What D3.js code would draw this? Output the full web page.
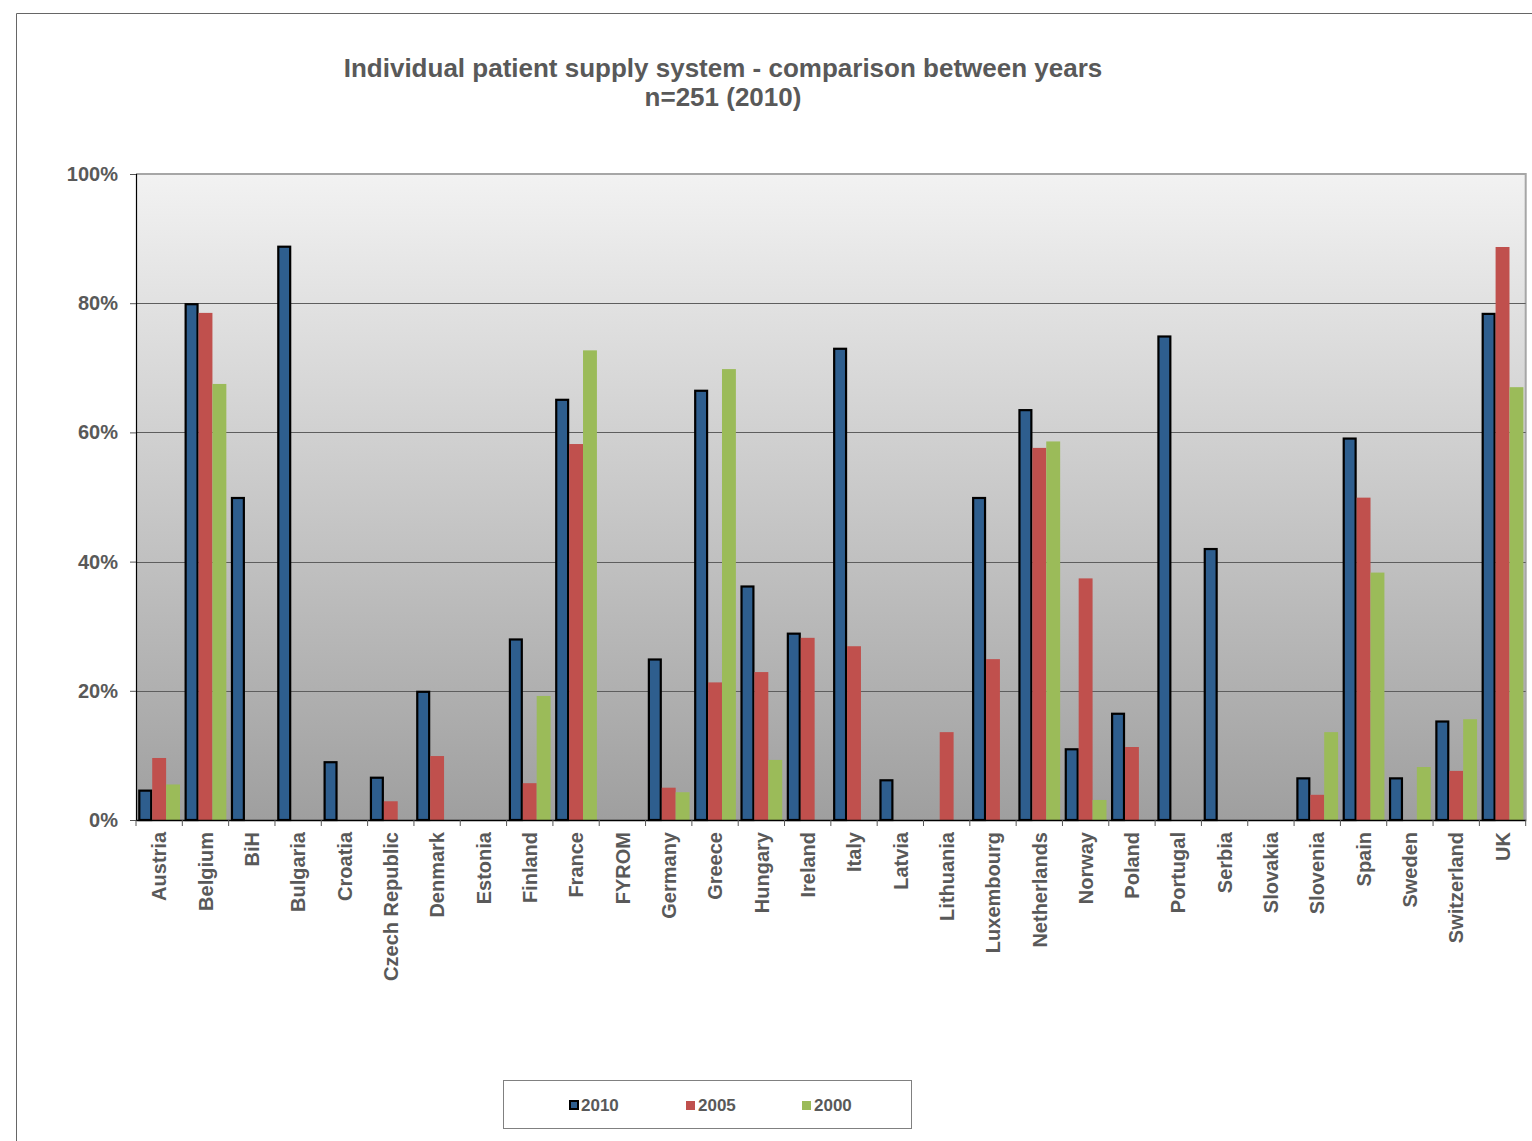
<!DOCTYPE html>
<html>
<head>
<meta charset="utf-8">
<script src="https://cdn.jsdelivr.net/npm/d3@7"></script>
<style>
  html, body { margin: 0; padding: 0; background: #fff; }
  svg { display: block; font-family: "Liberation Sans", Arial, sans-serif; }
</style>
</head>
<body>
<script>
// ---- data ----
const categories = ["Austria","Belgium","BiH","Bulgaria","Croatia","Czech Republic","Denmark","Estonia","Finland","France","FYROM","Germany","Greece","Hungary","Ireland","Italy","Latvia","Lithuania","Luxembourg","Netherlands","Norway","Poland","Portugal","Serbia","Slovakia","Slovenia","Spain","Sweden","Switzerland","UK"];
const years = ["2010","2005","2000"];
const values2010 = [4.7, 80, 50, 88.9, 9.1, 6.7, 20, null, 28.1, 65.2, null, 25, 66.6, 36.3, 29.0, 73.1, 6.3, null, 50, 63.6, 11.1, 16.6, 75, 42.1, null, 6.6, 59.2, 6.6, 15.4, 78.5];
const values2005 = [9.6, 78.5, null, null, null, 2.9, 9.9, null, 5.7, 58.2, null, 5.0, 21.3, 22.9, 28.2, 26.9, null, 13.6, 24.9, 57.6, 37.4, 11.3, null, null, null, 3.9, 49.9, null, 7.6, 88.7];
const values2000 = [5.5, 67.5, null, null, null, null, null, null, 19.2, 72.7, null, 4.3, 69.8, 9.3, null, null, null, null, null, 58.6, 3.1, null, null, null, null, 13.6, 38.3, 8.2, 15.6, 67.0];
const yTicks = [0, 20, 40, 60, 80, 100];
const titleLines = ["Individual patient supply system - comparison between years", "n=251 (2010)"];

const seriesValues = { "2010": values2010, "2005": values2005, "2000": values2000 };
const colors = { "2010": "#2E5E8E", "2005": "#C0504D", "2000": "#9BBB59" };
const textColor = "#595959";

const W = 1532, H = 1141;
const plot = { left: 136, right: 1525.7, top: 174, bottom: 820 };

const svg = d3.select("body").append("svg").attr("width", W).attr("height", H);
svg.append("rect").attr("width", W).attr("height", H).attr("fill", "#fff");

// outer chart frame
svg.append("path").attr("d", `M16.5,${H} L16.5,13.5 L${W},13.5`)
  .attr("fill", "none").attr("stroke", "#666").attr("stroke-width", 1);

// gradient
const defs = svg.append("defs");
const grad = defs.append("linearGradient").attr("id", "bg").attr("x1", 0).attr("y1", 0).attr("x2", 0).attr("y2", 1);
grad.append("stop").attr("offset", "0%").attr("stop-color", "#F2F2F2");
grad.append("stop").attr("offset", "100%").attr("stop-color", "#9F9F9F");

const x0 = d3.scaleBand().domain(categories).range([plot.left, plot.right]).padding(0);
const bw = x0.bandwidth();
const gap = bw * 0.1;
const x1 = d3.scaleBand().domain(years).range([gap / 2, bw - gap / 2]).padding(0);
const y = d3.scaleLinear().domain([0, 100]).range([plot.bottom, plot.top]);

// plot background
svg.append("rect").attr("x", plot.left).attr("y", plot.top)
  .attr("width", plot.right - plot.left).attr("height", plot.bottom - plot.top)
  .attr("fill", "url(#bg)");

// plot border (top/right)
svg.append("path")
  .attr("d", `M${plot.left},${plot.top} L${plot.right},${plot.top} L${plot.right},${plot.bottom}`)
  .attr("fill", "none").attr("stroke", "#A6A6A6").attr("stroke-width", 2);

// gridlines
svg.append("g").selectAll("line").data(yTicks.filter(d => d > 0 && d < 100)).join("line")
  .attr("x1", plot.left).attr("x2", plot.right)
  .attr("y1", d => Math.round(y(d)) + 0.5).attr("y2", d => Math.round(y(d)) + 0.5)
  .attr("stroke", "#5E5E5E").attr("stroke-width", 1);

// bars
const bars = svg.append("g");
years.forEach(yr => {
  const data = categories.map((c, i) => ({ c, v: seriesValues[yr][i] })).filter(d => d.v != null);
  const sel = bars.append("g").selectAll("rect").data(data).join("rect");
  if (yr === "2010") {
    sel.attr("x", d => x0(d.c) + x1(yr) + 1)
      .attr("width", x1.bandwidth() - 2)
      .attr("y", d => y(d.v) + 1)
      .attr("height", d => y(0) - y(d.v) - 1)
      .attr("fill", colors[yr]).attr("stroke", "#000").attr("stroke-width", 2.2);
  } else {
    sel.attr("x", d => x0(d.c) + x1(yr))
      .attr("width", x1.bandwidth())
      .attr("y", d => y(d.v))
      .attr("height", d => y(0) - y(d.v))
      .attr("fill", colors[yr]);
  }
});

// y axis
const yAxis = svg.append("g").attr("transform", `translate(${plot.left},0)`)
  .call(d3.axisLeft(y).tickValues(yTicks).tickFormat(d => d + "%").tickSize(6).tickPadding(12));
yAxis.select(".domain").attr("stroke", "#000").attr("stroke-width", 1.2);
yAxis.selectAll(".tick line").attr("stroke", "#555");
yAxis.selectAll(".tick text")
  .attr("fill", textColor).attr("font-size", 20).attr("font-weight", "bold")
  .attr("font-family", "Liberation Sans, Arial, sans-serif");

// x axis
const xAxis = svg.append("g").attr("transform", `translate(0,${plot.bottom})`)
  .call(d3.axisBottom(x0).tickSize(0).tickPadding(0));
xAxis.select(".domain").attr("stroke", "#000").attr("stroke-width", 1.5);
xAxis.selectAll(".tick text")
  .attr("fill", textColor).attr("font-size", 20).attr("font-weight", "bold")
  .attr("font-family", "Liberation Sans, Arial, sans-serif")
  .attr("text-anchor", "end")
  .attr("transform", "rotate(-90)")
  .attr("x", -12).attr("y", 0).attr("dy", "0.36em");
// boundary ticks
const boundaries = categories.map(c => x0(c)).concat([plot.right]);
svg.append("g").selectAll("line").data(boundaries).join("line")
  .attr("x1", d => d).attr("x2", d => d)
  .attr("y1", plot.bottom).attr("y2", plot.bottom + 6)
  .attr("stroke", "#555").attr("stroke-width", 1);

// title
svg.append("g").selectAll("text").data(titleLines).join("text")
  .attr("x", 723).attr("y", (d, i) => 77 + i * 29)
  .attr("text-anchor", "middle")
  .attr("font-size", 26).attr("font-weight", "bold").attr("fill", textColor)
  .text(d => d);

// legend
const lg = svg.append("g");
lg.append("rect").attr("x", 503.5).attr("y", 1080.5).attr("width", 408).attr("height", 48)
  .attr("fill", "#fff").attr("stroke", "#808080").attr("stroke-width", 1);
const legendX = { "2010": 569, "2005": 686, "2000": 802 };
years.forEach(yr => {
  const g = lg.append("g").attr("transform", `translate(${legendX[yr]},1100)`);
  if (yr === "2010") {
    g.append("rect").attr("x", 1).attr("y", 1).attr("width", 8).attr("height", 8)
      .attr("fill", colors[yr]).attr("stroke", "#000").attr("stroke-width", 2);
  } else {
    g.append("rect").attr("x", 0).attr("y", 1).attr("width", 9).attr("height", 9)
      .attr("fill", colors[yr]);
  }
  g.append("text").attr("x", 12).attr("y", 11)
    .attr("font-size", 17).attr("font-weight", "bold").attr("fill", textColor)
    .text(yr);
});
</script>
</body>
</html>
